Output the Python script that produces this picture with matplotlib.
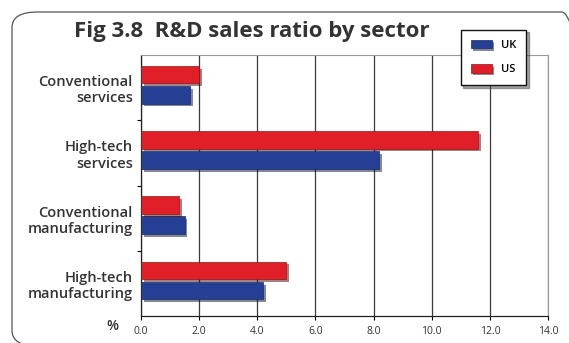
import numpy as np
import matplotlib.pyplot as plt
from matplotlib.patches import FancyBboxPatch
import matplotlib.patheffects as pe

plt.rcParams['font.family'] = ['Open Sans', 'DejaVu Sans']

sectors = ['Conventional\nservices', 'High-tech\nservices',
           'Conventional\nmanufacturing', 'High-tech\nmanufacturing']
uk = [1.7, 8.2, 1.5, 4.2]
us = [2.0, 11.6, 1.3, 5.0]
xticks = [0, 2, 4, 6, 8, 10, 12, 14]

W, H = 569, 343
fig = plt.figure(figsize=(W / 100, H / 100), dpi=100)

# rounded frame around the whole chart
frame = FancyBboxPatch((12 / W, -3 / H), 575 / W, 334 / H,
                       boxstyle='round,pad=0,rounding_size=0.045',
                       transform=fig.transFigure, facecolor='none',
                       edgecolor='#555555', linewidth=0.9, zorder=0)
fig.patches.append(frame)

ax = fig.add_axes([141 / W, 1 - 316 / H, 407 / W, 261 / H])
y = np.arange(len(sectors))
h = 0.27
shadow = [pe.SimplePatchShadow(offset=(2, -2), alpha=0.5), pe.Normal()]
b_uk = ax.barh(y + 0.11, uk, height=h, color='#253f95', edgecolor='#1a2a66',
               linewidth=0.5, zorder=3, label='UK', path_effects=shadow)
b_us = ax.barh(y - 0.2, us, height=h, color='#e01f28', edgecolor='#8a1a1a',
               linewidth=0.5, zorder=3, label='US', path_effects=shadow)

ax.set_xlim(0, 14)
ax.set_ylim(3.5, -0.5)
ax.set_xticks(xticks)
ax.set_xticklabels(['%.1f' % v for v in xticks], fontsize=7.5, color='#333333')
ax.set_yticks(y)
ax.set_yticklabels(sectors, fontsize=10.5, color='#333333', fontweight='semibold',
                   linespacing=1.2)
ax.tick_params(axis='y', length=0, pad=6)
ax.tick_params(axis='x', length=3, width=0.8, pad=4)
ax.set_yticks([0.5, 1.5, 2.5], minor=True)
ax.tick_params(axis='y', which='minor', length=3, width=0.8)

ax.grid(axis='x', color='#3a3a3a', linewidth=0.9, zorder=1)
for s in ['top', 'right']:
    ax.spines[s].set_color('#999999')
for s in ['left', 'bottom']:
    ax.spines[s].set_color('#222222')
    ax.spines[s].set_linewidth(0.9)

fig.text(112 / W, 1 - 326 / H, '%', fontsize=10, color='#333333',
         fontweight='semibold', va='center', ha='center')
fig.text(252 / W, 1 - 31 / H, 'Fig 3.8  R&D sales ratio by sector',
         fontsize=16, fontweight='bold', color='#333333',
         ha='center', va='center')

leg = ax.legend(handles=[b_uk, b_us], loc='upper left',
                bbox_to_anchor=(455 / W, 1 - 24 / H), bbox_transform=fig.transFigure,
                prop={'size': 8, 'weight': 'semibold'}, frameon=True,
                fancybox=False, shadow=True,
                edgecolor='#111111', handlelength=1.9, handleheight=0.8,
                borderpad=0.9, labelspacing=1.2, handletextpad=0.8)
leg.get_frame().set_linewidth(1.0)
leg.set_zorder(10)

fig.savefig('out.png', dpi=100)
